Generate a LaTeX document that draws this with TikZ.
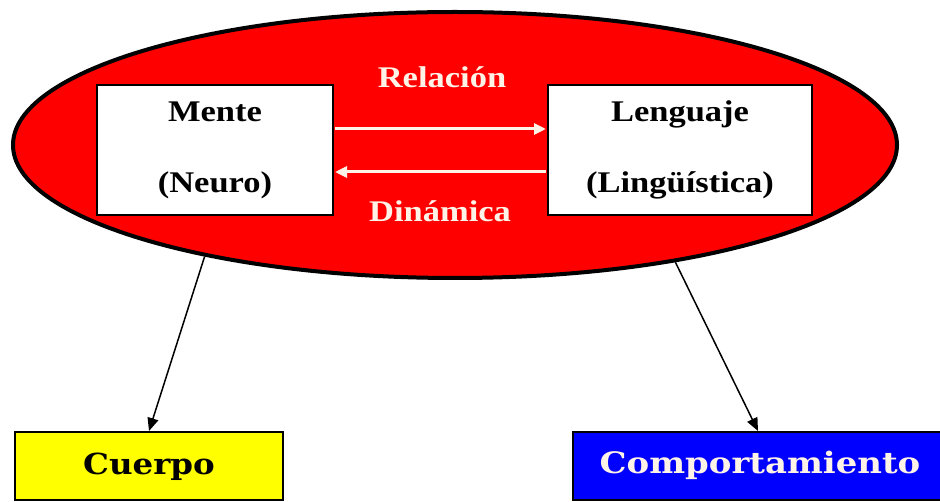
\documentclass[tikz,border=0pt]{standalone}
\usepackage{fontspec}
\usetikzlibrary{arrows.meta,shapes.geometric}
\newfontfamily\tnr[FakeStretch=1.15]{Liberation Serif}
\newfontfamily\dvs[FakeStretch=1.12]{DejaVu Serif}
\newfontfamily\dvsw[FakeStretch=1.15]{DejaVu Serif}
\definecolor{ellred}{HTML}{FF0000}
\definecolor{cream}{HTML}{FFF2E6}
\definecolor{boxyellow}{HTML}{FFFF00}
\definecolor{boxblue}{HTML}{0000FF}
\tikzset{
  x=1pt,y=-1pt,
  inbox/.style={draw=black,line width=2pt,fill=white},
  intext/.style={anchor=base,inner sep=0pt,font=\tnr\bfseries\fontsize{30}{36}\selectfont,text=black},
  redtext/.style={anchor=base,inner sep=0pt,font=\tnr\bfseries\fontsize{30}{36}\selectfont,text=cream},
  outtext/.style={anchor=base,inner sep=0pt,font=\dvs\bfseries\fontsize{29}{34}\selectfont},
  whitearrow/.style={draw=cream,line width=3pt,-{Triangle[length=12pt,width=11pt]}},
  blackarrow/.style={draw=black,line width=1.5pt,-{Triangle[length=13pt,width=11pt]}}
}
\begin{document}
\begin{tikzpicture}
\useasboundingbox (0,0) rectangle (940,502);
\clip (0,0) rectangle (940,502);
\fill[white] (0,0) rectangle (940,502);
% ellipse
\node[ellipse,draw=black,line width=4pt,fill=ellred,minimum width=884pt,minimum height=266pt,inner sep=0pt] (ell) at (455,145) {};
% inner boxes
\path[inbox] (97,85) rectangle (333,215);
\path[inbox] (548,85) rectangle (812,215);
\node[intext] (mente) at (215,122) {Mente};
\node[intext] (neuro) at (215,193) {(Neuro)};
\node[intext] (leng) at (680,122) {Lenguaje};
\node[intext] (ling) at (680,193) {(Lingüística)};
\node[redtext] (rel) at (442,88) {Relación};
\node[redtext] (din) at (440,222) {Dinámica};
\coordinate (a1s) at (335,129);
\coordinate (a1e) at (546,129);
\coordinate (a2s) at (546,172);
\coordinate (a2e) at (335,172);
\draw[whitearrow] (a1s) -- (a1e);
\draw[whitearrow] (a2s) -- (a2e);
% outer boxes
\node[draw=black,line width=2pt,fill=boxyellow,minimum width=268pt,minimum height=68pt,inner sep=0pt] (cuerpo) at (149,466) {};
\node[outtext,text=black] (cuerpoT) at (149,475) {Cuerpo};
\node[draw=black,line width=2pt,fill=boxblue,minimum width=370pt,minimum height=68pt,inner sep=0pt] (comp) at (758,466) {};
\node[anchor=base,inner sep=0pt,font=\dvsw\bfseries\fontsize{29.5}{34}\selectfont,text=cream] (compT) at (760,473) {Comportamiento};
% connectors
\draw[blackarrow] (ell.204.2) -- (cuerpo.north);
\draw[blackarrow] (ell.332.8) -- (comp.north);
\end{tikzpicture}
\end{document}
